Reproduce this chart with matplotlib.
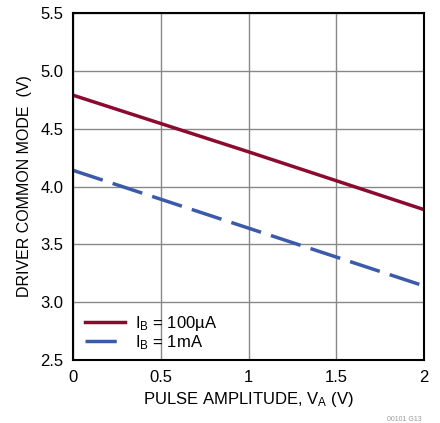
import matplotlib
matplotlib.use("Agg")
import matplotlib.pyplot as plt

plt.rcParams['font.family'] = ['Liberation Sans', 'DejaVu Sans']

# pulse amplitude (V)
va = [0, 1, 2]
# driver common mode (V)
cm_100ua = [4.79, 4.30, 3.80]
cm_1ma = [4.14, 3.64, 3.14]

fig = plt.figure(figsize=(4.4, 4.23), dpi=100)
ax = fig.add_axes([0.166, 0.149, 0.798, 0.820])

ax.plot(va, cm_100ua, color='#8c0a30', linewidth=2.5, label=r'$\mathregular{I_B}$ = 100µA')
ax.plot(va, cm_1ma, color='#3b5aa8', linewidth=2.5, dashes=(9, 3), label=r'$\mathregular{I_B}$ = 1mA')

ax.set_xlim(0, 2)
ax.set_ylim(2.5, 5.5)
ax.set_xticks([0, 0.5, 1, 1.5, 2])
ax.set_xticklabels(['0', '0.5', '1', '1.5', '2'])
ax.set_yticks([2.5, 3.0, 3.5, 4.0, 4.5, 5.0, 5.5])
ax.set_yticklabels(['2.5', '3.0', '3.5', '4.0', '4.5', '5.0', '5.5'])
ax.tick_params(length=0, labelsize=12, pad=7)
ax.grid(True, color='#888888', linewidth=1)
for s in ax.spines.values():
    s.set_linewidth(1.5)

ax.set_xlabel(r'PULSE AMPLITUDE, $\mathregular{V_A}$ (V)', fontsize=12, labelpad=4)
ax.set_ylabel('DRIVER COMMON MODE  (V)', fontsize=11.5, labelpad=6)

ax.legend(loc='lower left', frameon=False, fontsize=12, handlelength=2.4,
          handletextpad=0.6, labelspacing=0.0, borderaxespad=0.1,
          bbox_to_anchor=(0.01, 0.0))

fig.text(0.92, 0.0, '00101 G13', fontsize=5, color='#999999', ha='center', va='bottom')

fig.savefig('out.png', dpi=100)
